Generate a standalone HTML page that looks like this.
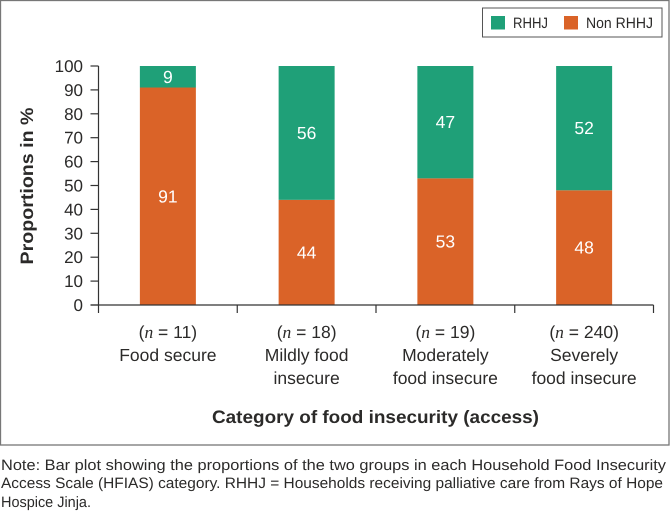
<!DOCTYPE html>
<html lang="en">
<head>
<meta charset="utf-8">
<title>Proportions by food insecurity category</title>
<style>
html,body{margin:0;padding:0;background:#fff;width:670px;height:513px;overflow:hidden}
svg{display:block}
text{font-family:"Liberation Sans",sans-serif;fill:#2b2a29;text-rendering:geometricPrecision}
</style>
</head>
<body>
<svg id="chart" width="670" height="513" viewBox="0 0 670 513" xmlns="http://www.w3.org/2000/svg">
  <rect x="0.5" y="0.5" width="668.5" height="444.5" fill="#fff" stroke="#777" stroke-width="1.3"/>
  <g id="plot"></g>
  <g>
    <rect x="482.5" y="8" width="179.5" height="29" fill="#fff" stroke="#555" stroke-width="1"/>
    <rect x="491" y="16" width="14" height="13.5" fill="#1fa078"/>
    <text x="513" y="28" font-size="15" textLength="35" lengthAdjust="spacingAndGlyphs">RHHJ</text>
    <rect x="564" y="16" width="14" height="13.5" fill="#da6328"/>
    <text x="586" y="28" font-size="15" textLength="67" lengthAdjust="spacingAndGlyphs">Non RHHJ</text>
  </g>
  <text transform="translate(33,186) rotate(-90)" text-anchor="middle" font-size="18" font-weight="bold" textLength="157" lengthAdjust="spacingAndGlyphs">Proportions in %</text>
  <text x="375.5" y="423" text-anchor="middle" font-size="18" font-weight="bold" textLength="327" lengthAdjust="spacingAndGlyphs">Category of food insecurity (access)</text>
  <g>
    <text x="1" y="470" font-size="15" textLength="665" lengthAdjust="spacingAndGlyphs">Note: Bar plot showing the proportions of the two groups in each Household Food Insecurity</text>
    <text x="1" y="488" font-size="15" textLength="662" lengthAdjust="spacingAndGlyphs">Access Scale (HFIAS) category. RHHJ = Households receiving palliative care from Rays of Hope</text>
    <text x="1" y="507" font-size="15" textLength="90" lengthAdjust="spacingAndGlyphs">Hospice Jinja.</text>
  </g>
</svg>
<script>
const sampleSizes = ['11', '18', '19', '240'];
const categoryLines = [['Food secure'], ['Mildly food', 'insecure'], ['Moderately', 'food insecure'], ['Severely', 'food insecure']];
const nonRhhjValues = [91, 44, 53, 48];
const rhhjValues = [9, 56, 47, 52];
const yTicks = [0, 10, 20, 30, 40, 50, 60, 70, 80, 90, 100];

const NS = 'http://www.w3.org/2000/svg';
const plot = document.getElementById('plot');
const left = 98.5, right = 653.5, y0 = 305, y100 = 66, barWidth = 56;
const yScale = v => y0 - (v / 100) * (y0 - y100);
const bandWidth = (right - left) / sampleSizes.length;
const xCenter = i => left + bandWidth * (i + 0.5);

function make(tag, attrs, parent) {
  const el = document.createElementNS(NS, tag);
  for (const k in attrs) el.setAttribute(k, attrs[k]);
  parent.appendChild(el);
  return el;
}

sampleSizes.forEach((n, i) => {
  const cx = xCenter(i);
  const bottomH = nonRhhjValues[i];
  const topH = rhhjValues[i];

  const barBottom = make('rect', {x: cx - barWidth / 2, y: yScale(bottomH), width: barWidth, height: y0 - yScale(bottomH), fill: '#da6328'}, plot);
  
  

  const barTop = make('rect', {x: cx - barWidth / 2, y: yScale(bottomH + topH), width: barWidth, height: yScale(bottomH) - yScale(bottomH + topH), fill: '#1fa078'}, plot);
  
  

  const valueBottom = make('text', {x: cx, y: yScale(bottomH / 2) + 6, 'text-anchor': 'middle', 'font-size': 17.5, style: 'fill:#fff'}, plot);
  valueBottom.textContent = bottomH;
  
  

  const valueTop = make('text', {x: cx, y: yScale(bottomH + topH / 2) + 6, 'text-anchor': 'middle', 'font-size': 17.5, style: 'fill:#fff'}, plot);
  valueTop.textContent = topH;
  
  

  const nLabel = make('text', {x: cx, y: 338, 'text-anchor': 'middle', 'font-size': 17.5}, plot);
  
  
  nLabel.appendChild(document.createTextNode('('));
  const italicN = make('tspan', {'font-style': 'italic', style: 'font-family:"Liberation Serif",serif'}, nLabel);
  italicN.textContent = 'n';
  nLabel.appendChild(document.createTextNode(' = ' + n + ')'));

  categoryLines[i].forEach((line, j) => {
    const label = make('text', {x: cx, y: 361 + j * 23, 'text-anchor': 'middle', 'font-size': 17.5}, plot);
    label.textContent = line;
    
    
  });
});

const yAxis = make('line', {x1: left, x2: left, y1: y100, y2: y0, stroke: '#333', 'stroke-width': 1.2}, plot);



const xAxis = make('line', {x1: 90.5, x2: right, y1: y0, y2: y0, stroke: '#333', 'stroke-width': 1.2}, plot);



yTicks.forEach(t => {
  const tick = make('line', {x1: 90.5, x2: left, y1: yScale(t), y2: yScale(t), stroke: '#333', 'stroke-width': 1.2}, plot);
  
  
  const label = make('text', {x: 83, y: yScale(t) + 6, 'text-anchor': 'end', 'font-size': 17}, plot);
  label.textContent = t;
  
  
});

for (let i = 0; i <= sampleSizes.length; i++) {
  const x = left + bandWidth * i;
  const tick = make('line', {x1: x, x2: x, y1: y0, y2: y0 + 8, stroke: '#333', 'stroke-width': 1.2}, plot);
  
  
}
</script>
</body>
</html>
